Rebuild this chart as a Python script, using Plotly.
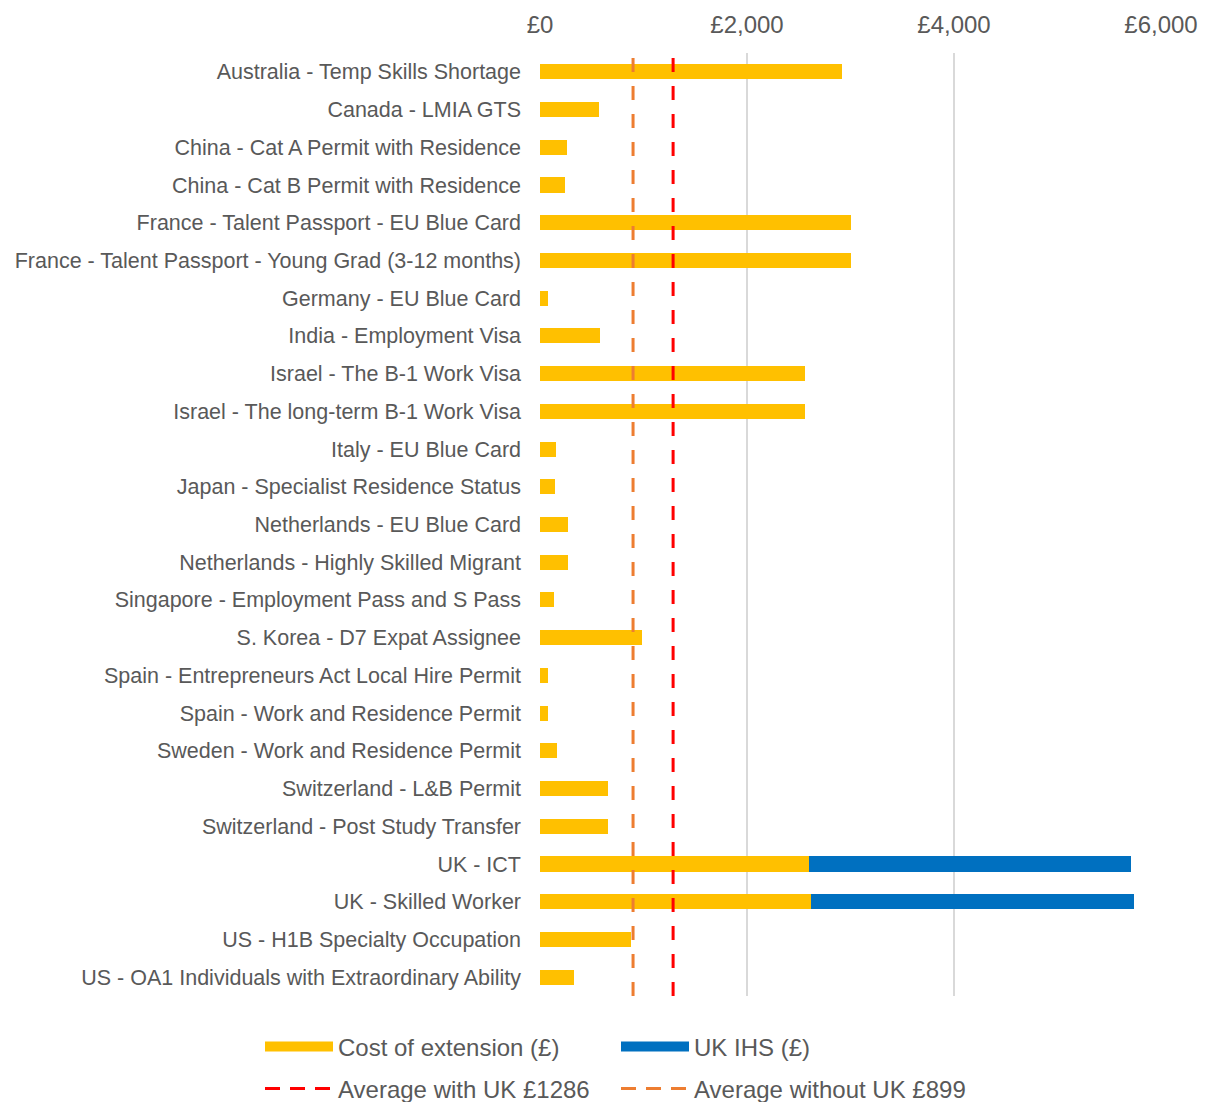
import plotly.graph_objects as go

categories = [
    "Australia - Temp Skills Shortage",
    "Canada - LMIA GTS",
    "China - Cat A Permit with Residence",
    "China - Cat B Permit with Residence",
    "France - Talent Passport - EU Blue Card",
    "France - Talent Passport - Young Grad (3-12 months)",
    "Germany - EU Blue Card",
    "India - Employment Visa",
    "Israel - The B-1 Work Visa",
    "Israel - The long-term B-1 Work Visa",
    "Italy - EU Blue Card",
    "Japan - Specialist Residence Status",
    "Netherlands - EU Blue Card",
    "Netherlands - Highly Skilled Migrant",
    "Singapore - Employment Pass and S Pass",
    "S. Korea - D7 Expat Assignee",
    "Spain - Entrepreneurs Act Local Hire Permit",
    "Spain - Work and Residence Permit",
    "Sweden - Work and Residence Permit",
    "Switzerland - L&B Permit",
    "Switzerland - Post Study Transfer",
    "UK - ICT",
    "UK - Skilled Worker",
    "US - H1B Specialty Occupation",
    "US - OA1 Individuals with Extraordinary Ability",
]
cost_of_extension = [2921, 573, 258, 240, 3008, 3008, 74, 580, 2560, 2560,
                     152, 145, 270, 270, 135, 982, 77, 77, 164, 657,
                     657, 2598, 2621, 879, 330]
uk_ihs = [0] * 21 + [3115, 3115] + [0, 0]
avg_with_uk = 1286
avg_without_uk = 899
x_ticks = [0, 2000, 4000, 6000]
x_tick_labels = ["£0", "£2,000", "£4,000", "£6,000"]

YELLOW = "#FFC000"
BLUE = "#0070C0"
RED = "#FF0000"
ORANGE = "#ED7D31"
TXT = "#595959"
FONT = "Liberation Sans, Arial, sans-serif"

fig = go.Figure()
fig.add_trace(go.Bar(y=categories, x=cost_of_extension, orientation="h",
                     marker=dict(color=YELLOW, line=dict(width=0)),
                     width=0.4, showlegend=False, hoverinfo="x+y"))
fig.add_trace(go.Bar(y=categories, x=uk_ihs, orientation="h",
                     marker=dict(color=BLUE, line=dict(width=0)),
                     width=0.4, showlegend=False, hoverinfo="x+y"))

# vertical average lines on an overlay axis spanning the plot height
fig.add_trace(go.Scatter(x=[avg_with_uk, avg_with_uk], y=[0, 1], yaxis="y2",
                         mode="lines", line=dict(color=RED, width=3, dash="14px,14px"),
                         showlegend=False, hoverinfo="skip"))
fig.add_trace(go.Scatter(x=[avg_without_uk, avg_without_uk], y=[0, 1], yaxis="y2",
                         mode="lines", line=dict(color=ORANGE, width=3, dash="14px,14px"),
                         showlegend=False, hoverinfo="skip"))

# legend entries (one legend box per entry, laid out 2x2)
fig.add_trace(go.Scatter(x=[None], y=[None], mode="lines", name="Cost of extension (£)",
                         line=dict(color=YELLOW, width=11), legend="legend"))
fig.add_trace(go.Scatter(x=[None], y=[None], mode="lines", name="UK IHS (£)",
                         line=dict(color=BLUE, width=11), legend="legend2"))
fig.add_trace(go.Scatter(x=[None], y=[None], mode="lines", name=f"Average with UK £{avg_with_uk}",
                         line=dict(color=RED, width=3, dash="15px,10px"), legend="legend3"))
fig.add_trace(go.Scatter(x=[None], y=[None], mode="lines", name=f"Average without UK £{avg_without_uk}",
                         line=dict(color=ORANGE, width=3, dash="15px,10px"), legend="legend4"))

legend_common = dict(orientation="h", xref="container", yref="container",
                     xanchor="left", yanchor="middle", itemwidth=68,
                     traceorder="normal",
                     font=dict(family=FONT, size=24, color=TXT),
                     bgcolor="rgba(0,0,0,0)", itemclick=False, itemdoubleclick=False)

W, H = 1205, 1102
col1, col2 = 260, 616
row1, row2 = 1047, 1089

fig.update_layout(
    width=W, height=H,
    margin=dict(l=540, r=44, t=53, b=106, autoexpand=False),
    paper_bgcolor="white", plot_bgcolor="white",
    barmode="stack",
    font=dict(family=FONT, size=21.5, color=TXT),
    xaxis=dict(side="top", range=[0, 6000], tickvals=x_ticks, ticktext=x_tick_labels,
               showgrid=True, gridcolor="#D9D9D9", gridwidth=1.5,
               zeroline=False, showline=False, ticks="", ticklabelstandoff=14,
               tickfont=dict(family=FONT, size=24, color=TXT), fixedrange=True),
    yaxis=dict(autorange="reversed", showgrid=False, zeroline=False, showline=False,
               ticks="", ticklabelstandoff=18,
               tickfont=dict(family=FONT, size=21.5, color=TXT), fixedrange=True),
    yaxis2=dict(overlaying="y", range=[0, 1], visible=False, fixedrange=True),
    legend=dict(x=col1 / W, y=(H - row1) / H, **legend_common),
    legend2=dict(x=col2 / W, y=(H - row1) / H, **legend_common),
    legend3=dict(x=col1 / W, y=(H - row2) / H, **legend_common),
    legend4=dict(x=col2 / W, y=(H - row2) / H, **legend_common),
    showlegend=True,
)

fig.write_html("out.html", config={"displayModeBar": False},
               post_script="document.body.style.margin='0px';document.body.style.overflow='hidden';")
